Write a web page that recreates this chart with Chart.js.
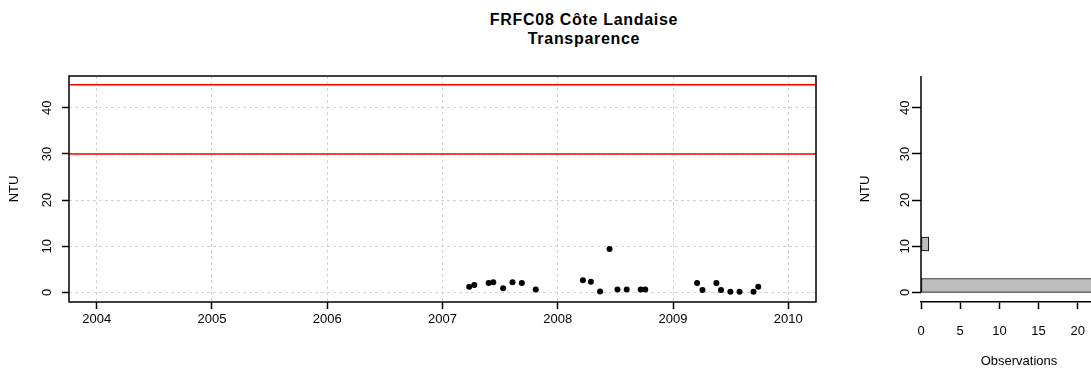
<!DOCTYPE html>
<html>
<head>
<meta charset="utf-8">
<title>FRFC08 Côte Landaise - Transparence</title>
<script src="https://cdn.jsdelivr.net/npm/chart.js@4"></script>
<style>
  html, body { margin: 0; padding: 0; overflow: hidden; background: #fff; }
  #wrap { position: relative; width: 1091px; height: 369px; overflow: hidden; }
  #title {
    position: absolute; left: 384px; width: 400px; top: 10px;
    text-align: center; color: #000;
    font: bold 16px "Liberation Sans", Arial, sans-serif;
    line-height: 19px; letter-spacing: 0.7px;
  }
  #main { position: absolute; left: 0; top: 0; }
  #hist { position: absolute; left: 857px; top: 0; }
</style>
</head>
<body>
<div id="wrap">
  <div id="title">FRFC08 Côte Landaise<br>Transparence</div>
  <canvas id="main" width="860" height="369"></canvas>
  <canvas id="hist" width="260" height="369"></canvas>
</div>
<script>
// sampling dates (decimal years) and turbidity in NTU
const dates = [2007.232, 2007.276, 2007.400, 2007.440, 2007.526, 2007.607, 2007.688, 2007.809,
               2008.218, 2008.287, 2008.367, 2008.449, 2008.518, 2008.598, 2008.719, 2008.759,
               2009.209, 2009.255, 2009.376, 2009.416, 2009.497, 2009.577, 2009.698, 2009.739];
const ntu = [1.2, 1.6, 2.0, 2.2, 0.9, 2.2, 2.0, 0.6,
             2.6, 2.3, 0.2, 9.4, 0.6, 0.6, 0.6, 0.6,
             2.0, 0.5, 2.0, 0.5, 0.1, 0.1, 0.1, 1.2];

// quality class limits
const thresholds = [30, 45];

const yearTicks = [2004, 2005, 2006, 2007, 2008, 2009, 2010];
const ntuTicks = [0, 10, 20, 30, 40];
const obsTicks = [0, 5, 10, 15, 20];

// histogram bins
const binEdges = [0, 3, 6, 9, 12];
const binCenters = binEdges.slice(0, -1).map((e, i) => (e + binEdges[i + 1]) / 2);
const counts = binCenters.map((c, i) =>
  ntu.filter(v => v >= binEdges[i] && v < binEdges[i + 1]).length);

const FONT = '"Liberation Sans", Arial, sans-serif';
Chart.defaults.font.family = FONT;
Chart.defaults.font.size = 13;
Chart.defaults.color = '#000';

const rotatedYLabels = {
  id: 'rotatedYLabels',
  afterDraw(chart, args, opts) {
    const y = chart.scales.y, ctx = chart.ctx;
    ctx.save();
    ctx.font = '13px ' + FONT;
    ctx.fillStyle = '#000';
    ctx.textAlign = 'center';
    ctx.textBaseline = 'middle';
    y.ticks.forEach(t => {
      ctx.save();
      ctx.translate(opts.x, y.getPixelForValue(t.value));
      ctx.rotate(-Math.PI / 2);
      ctx.fillText(String(t.value), 0, 0);
      ctx.restore();
    });
    ctx.restore();
  }
};

const limitLines = {
  id: 'limitLines',
  beforeDatasetsDraw(chart) {
    const {ctx, chartArea: a, scales: {y}} = chart;
    ctx.save();
    ctx.strokeStyle = '#ff0000';
    ctx.lineWidth = 1.5;
    thresholds.forEach(v => {
      const py = y.getPixelForValue(v);
      ctx.beginPath();
      ctx.moveTo(a.left, py);
      ctx.lineTo(a.right, py);
      ctx.stroke();
    });
    ctx.restore();
  }
};

const frame = {
  id: 'frame',
  afterDraw(chart) {
    const {ctx, chartArea: a} = chart;
    ctx.save();
    ctx.strokeStyle = '#000';
    ctx.lineWidth = 1.5;
    ctx.strokeRect(a.left, a.top, a.right - a.left, a.bottom - a.top);
    ctx.restore();
  }
};

// histogram base line, from the top of the panel down to 0 NTU
const baseLine = {
  id: 'baseLine',
  afterDraw(chart) {
    const {ctx, chartArea: a, scales: {x, y}} = chart;
    const px = x.getPixelForValue(0);
    ctx.save();
    ctx.strokeStyle = '#000';
    ctx.lineWidth = 1.5;
    ctx.beginPath();
    ctx.moveTo(px, a.top);
    ctx.lineTo(px, y.getPixelForValue(0));
    ctx.stroke();
    ctx.restore();
  }
};

const setTicks = list => s => { s.ticks = list.map(v => ({value: v})); };

new Chart(document.getElementById('main'), {
  type: 'scatter',
  data: {
    datasets: [{
      data: dates.map((d, i) => ({x: d, y: ntu[i]})),
      pointStyle: 'circle',
      pointRadius: 3,
      pointBackgroundColor: '#000',
      pointBorderWidth: 0
    }]
  },
  options: {
    responsive: false,
    animation: false,
    devicePixelRatio: 1,
    layout: { padding: { top: 76, right: 44, left: 0, bottom: 0 } },
    plugins: {
      legend: { display: false },
      tooltip: { enabled: false },
      rotatedYLabels: { x: 47 }
    },
    scales: {
      x: {
        type: 'linear', min: 2003.76, max: 2010.24,
        afterBuildTicks: setTicks(yearTicks),
        afterFit: s => { s.height = 67; },
        ticks: { callback: v => String(v), padding: 3, maxRotation: 0, autoSkip: false },
        grid: { color: '#d3d3d3', lineWidth: 1, tickLength: 7, tickColor: '#000', tickWidth: 1.5 },
        border: { display: false, dash: [3, 3] }
      },
      y: {
        type: 'linear', min: -2.1, max: 46.9,
        afterBuildTicks: setTicks(ntuTicks),
        afterFit: s => { s.width = 69; },
        ticks: { display: false },
        grid: { color: '#d3d3d3', lineWidth: 1, tickLength: 7, tickColor: '#000', tickWidth: 1.5 },
        border: { display: false, dash: [3, 3] },
        title: { display: true, text: 'NTU', padding: { top: 7, bottom: 0 } }
      }
    }
  },
  plugins: [limitLines, frame, rotatedYLabels]
});

new Chart(document.getElementById('hist'), {
  type: 'bar',
  data: {
    datasets: [{
      data: binCenters.map((c, i) => ({y: c, x: counts[i]})),
      backgroundColor: '#bebebe',
      borderColor: '#000',
      borderWidth: 1,
      borderSkipped: false,
      barPercentage: 1,
      categoryPercentage: 1
    }]
  },
  options: {
    indexAxis: 'y',
    responsive: false,
    animation: false,
    devicePixelRatio: 1,
    layout: { padding: { top: 76, right: 0, left: 0, bottom: 0 } },
    plugins: {
      legend: { display: false },
      tooltip: { enabled: false },
      rotatedYLabels: { x: 48 }
    },
    scales: {
      x: {
        type: 'linear', min: 0, max: 25, position: 'bottom', offset: false,
        afterBuildTicks: setTicks(obsTicks),
        afterFit: s => { s.height = 67; },
        ticks: { padding: 15, maxRotation: 0, autoSkip: false },
        grid: { drawOnChartArea: false, offset: false, tickLength: 7, tickColor: '#000', tickWidth: 1.5 },
        border: { display: true, color: '#000', width: 1.5 },
        title: { display: true, text: 'Observations', padding: { top: 0, bottom: 0 } }
      },
      y: {
        type: 'linear', min: -2.1, max: 46.9, offset: false,
        afterBuildTicks: setTicks(ntuTicks),
        afterFit: s => { s.width = 64; },
        ticks: { display: false },
        grid: { drawOnChartArea: false, offset: false, tickLength: 9, tickColor: '#000', tickWidth: 1.5 },
        border: { display: false },
        title: { display: true, text: 'NTU', padding: { top: 1, bottom: 0 } }
      }
    }
  },
  plugins: [baseLine, rotatedYLabels]
});
</script>
</body>
</html>
